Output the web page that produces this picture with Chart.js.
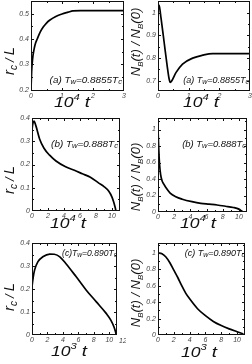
<!DOCTYPE html>
<html><head><meta charset="utf-8">
<script src="https://cdn.jsdelivr.net/npm/chart.js@4/dist/chart.umd.min.js"></script>
<style>
html,body{margin:0;padding:0;background:#fff;width:252px;height:364px;overflow:hidden;position:relative}
canvas{position:absolute}
</style></head><body>
<canvas id="c1"></canvas><canvas id="c2"></canvas><canvas id="c3"></canvas>
<canvas id="c4"></canvas><canvas id="c5"></canvas><canvas id="c6"></canvas>
<script>
// ---- data ----
const tA_rc = [0,0.02,0.05,0.1,0.15,0.2,0.3,0.4,0.5,0.6,0.8,1.0,1.2,1.35,1.6,2.0,2.5,3.0];
const rcA   = [0.20,0.27,0.32,0.36,0.385,0.40,0.428,0.448,0.463,0.474,0.489,0.499,0.506,0.511,0.512,0.512,0.512,0.512];
const tA_nb = [0,0.04,0.1,0.2,0.3,0.36,0.4,0.45,0.59,0.8,1.13,1.46,1.78,2.2,2.6,3.0];
const nbA   = [1.035,1.031,0.975,0.87,0.765,0.71,0.693,0.70,0.737,0.774,0.80,0.813,0.82,0.82,0.82,0.82];
const tB_rc = [0,0.1,0.25,0.5,0.95,1.5,2.2,3,4.2,5.3,6.3,7.3,8.35,9.0,9.6,10.0,10.2,10.4,10.5];
const rcB   = [0.35,0.375,0.387,0.365,0.31,0.27,0.24,0.215,0.19,0.175,0.16,0.145,0.12,0.105,0.085,0.06,0.04,0.015,0];
const tB_nb = [0,0.05,0.1,0.2,0.33,0.5,0.7,0.95,1.5,2.2,3,4.2,5.3,6.3,7.3,8.35,9.3,10,10.3,10.5];
const nbB   = [1.0,0.88,0.75,0.57,0.45,0.38,0.34,0.30,0.23,0.185,0.155,0.125,0.105,0.095,0.085,0.07,0.055,0.035,0.015,0];
const tC_rc = [0,0.15,0.34,0.77,1.4,2.3,2.9,3.6,4.4,5.7,7.0,8.3,9.6,10.2,10.6,10.8,10.9];
const rcC   = [0.21,0.25,0.283,0.319,0.34,0.352,0.351,0.34,0.31,0.254,0.196,0.145,0.094,0.065,0.036,0.015,0];
const tC_nb = [0,0.5,1,1.5,2,2.5,3,3.5,4,5,6,7,8,9,10,10.8];
const nbC   = [1.0,0.99,0.95,0.88,0.79,0.70,0.60,0.51,0.44,0.32,0.235,0.165,0.115,0.075,0.04,0.012];

const FAM = '"Liberation Sans", Arial, sans-serif';

// draws a run of italic segments; sx stretches horizontally
function rich(ctx, segs, x, y, align, sx){
  sx = sx || 1;
  let w = 0;
  segs.forEach(s=>{ctx.font='italic '+s.size+'px '+FAM; w += ctx.measureText(s.t).width + (s.gap||0);});
  w *= sx;
  let start = align==='right' ? x - w : align==='center' ? x - w/2 : x;
  ctx.save(); ctx.translate(start, y); ctx.scale(sx, 1);
  let cx = 0;
  segs.forEach(s=>{
    ctx.font='italic '+s.size+'px '+FAM;
    ctx.fillText(s.t, cx + (s.gap||0), (s.dy||0));
    cx += ctx.measureText(s.t).width + (s.gap||0);
  });
  ctx.restore();
}

function deco(cfg){
  return {
    id:'deco',
    afterDraw(chart){
      const ctx = chart.ctx, a = chart.chartArea, xs = chart.scales.x, ys = chart.scales.y;
      ctx.save();
      ctx.strokeStyle='#111'; ctx.lineWidth=1;
      ctx.strokeRect(a.left+0.5, a.top+0.5, a.right-a.left-1, a.bottom-a.top-1);
      ctx.beginPath();
      const tick = (min,max,step,len,fn)=>{ for(let v=min; v<=max+1e-9; v+=step){ fn(v,len);} };
      const xt=(v,len)=>{const p=Math.round(xs.getPixelForValue(v))+0.5; if(p<a.left+1||p>a.right-1)return;
        ctx.moveTo(p,a.bottom); ctx.lineTo(p,a.bottom-len); ctx.moveTo(p,a.top); ctx.lineTo(p,a.top+len);};
      const yt=(v,len)=>{const p=Math.round(ys.getPixelForValue(v))+0.5; if(p<a.top+1||p>a.bottom-1)return;
        ctx.moveTo(a.left,p); ctx.lineTo(a.left+len,p); ctx.moveTo(a.right,p); ctx.lineTo(a.right-len,p);};
      tick(cfg.xs.min0, cfg.xs.max, cfg.xs.minor, 2, xt);
      tick(cfg.xs.min0, cfg.xs.max, cfg.xs.step, 3, xt);
      tick(cfg.ys.min0, cfg.ys.max, cfg.ys.minor, 2, yt);
      tick(cfg.ys.min0, cfg.ys.max, cfg.ys.step, 3, yt);
      ctx.stroke();
      ctx.fillStyle='#111'; ctx.textBaseline='alphabetic';
      // x title
      rich(ctx, [{t:'10',size:14},{t:cfg.xexp,size:9,dy:-7},{t:'t',size:15,gap:4}], cfg.xt[0], cfg.xt[1], 'center', 1.25);
      if (cfg.extra){ ctx.fillStyle='#444'; ctx.font='italic 7px '+FAM; ctx.fillText(cfg.extra, a.right+2, a.bottom+8); ctx.fillStyle='#111'; }
      // y title
      ctx.save(); ctx.translate(cfg.ytX, cfg.ytY); ctx.rotate(-Math.PI/2);
      rich(ctx, cfg.ytitle, 0, 0, 'center'); ctx.restore();
      // annotation
      rich(ctx, cfg.note, a.right-cfg.noteR, a.top+cfg.noteY, 'right', cfg.noteS);
      ctx.restore();
    }
  };
}

const rcTitle = [{t:'r',size:15},{t:'c',size:10,dy:3},{t:'/',size:13,gap:3},{t:'L',size:15,gap:3}];
const nbTitle = [{t:'N',size:13},{t:'B',size:8,dy:3},{t:'(t) / N',size:13},{t:'B',size:8,dy:3},{t:'(0)',size:13}];
function note(l, val, sp){ return [{t:l+(sp?' ':'')+'T',size:9},{t:'w',size:7,dy:1},{t:'='+val+'T',size:9},{t:'c',size:7,dy:1}]; }

const fmt = v => String(+v.toFixed(3));

function make(id, pos, cw, ch, area, xs, ys, t, v, d){
  const el = document.getElementById(id);
  el.width=cw; el.height=ch; el.style.left=pos[0]+'px'; el.style.top=pos[1]+'px';
  el.style.width=cw+'px'; el.style.height=ch+'px';
  const tickFont = {size:7, style:'italic', family:FAM};
  new Chart(el, {
    type:'line',
    data:{datasets:[{data:t.map((x,i)=>({x:x,y:v[i]})), borderColor:'#000', borderWidth:1.7, pointRadius:0,
      tension:0.4, cubicInterpolationMode:'monotone', fill:false}]},
    options:{
      responsive:false, animation:false, devicePixelRatio:1,
      plugins:{legend:{display:false}, tooltip:{enabled:false}},
      layout:{padding:{left:0, top:area.top, right:cw-area.right, bottom:0}},
      scales:{
        x:{type:'linear', min:xs.min, max:xs.max,
          ticks:{stepSize:xs.step, font:tickFont, color:'#444', padding:1, maxRotation:0, autoSkip:false, includeBounds:false, callback:fmt},
          grid:{display:false, drawTicks:false}, border:{display:false},
          afterFit:s=>{s.height=ch-area.bottom; s.paddingLeft=0; s.paddingRight=0;}},
        y:{type:'linear', min:ys.min, max:ys.max,
          ticks:{stepSize:ys.step, font:tickFont, color:'#444', padding:2, autoSkip:false, includeBounds:false, callback:fmt},
          grid:{display:false, drawTicks:false}, border:{display:false},
          afterFit:s=>{s.width=area.left; s.paddingTop=0; s.paddingBottom=0;}}
      }
    },
    plugins:[deco(Object.assign({xs:xs, ys:ys}, d))]
  });
}

make('c1',[0,0],126,113,{left:31,right:124,top:1,bottom:91},
  {min:0,max:3,step:1,minor:0.5,min0:0},{min:0.195,max:0.55,step:0.1,minor:0.05,min0:0.2},
  tA_rc, rcA, {xexp:'4', xt:[72,107], ytitle:rcTitle, ytX:14, ytY:61, note:note('(a)','0.8855',true), noteR:2, noteY:82, noteS:1.1});
make('c2',[126,0],126,113,{left:32,right:124,top:1,bottom:91},
  {min:0,max:3,step:1,minor:0.5,min0:0},{min:0.655,max:1.052,step:0.1,minor:0.05,min0:0.7},
  tA_nb, nbA, {xexp:'4', xt:[75,107], ytitle:nbTitle, ytX:14, ytY:42, note:note('(a)','0.8855',true), noteR:1, noteY:82, noteS:1.0});
make('c3',[0,113],126,125,{left:32,right:120,top:5,bottom:98},
  {min:0,max:11,step:2,minor:1,min0:0},{min:0,max:0.4,step:0.1,minor:0.05,min0:0},
  tB_rc, rcB, {xexp:'4', xt:[68,115], ytitle:rcTitle, ytX:14, ytY:67, note:note('(b)','0.888',true), noteR:2, noteY:29, noteS:1.1});
make('c4',[126,113],126,125,{left:32,right:121,top:5,bottom:99},
  {min:0,max:11,step:2,minor:1,min0:0},{min:0,max:1.14,step:0.2,minor:0.1,min0:0},
  tB_nb, nbB, {xexp:'4', xt:[72,115], ytitle:nbTitle, ytX:14, ytY:64, note:note('(b)','0.888',true), noteR:1, noteY:29, noteS:1.05});
make('c5',[0,238],126,126,{left:32,right:117,top:5,bottom:97},
  {min:0,max:11,step:2,minor:1,min0:0},{min:0,max:0.4,step:0.1,minor:0.05,min0:0},
  tC_rc, rcC, {xexp:'3', xt:[69,118], extra:'12', ytitle:rcTitle, ytX:14, ytY:59, note:note('(c)','0.890',false), noteR:0, noteY:13, noteS:0.95});
make('c6',[126,238],126,126,{left:32,right:119,top:5,bottom:97},
  {min:0,max:11,step:2,minor:1,min0:0},{min:0,max:1.12,step:0.2,minor:0.1,min0:0},
  tC_nb, nbC, {xexp:'3', xt:[73,119], ytitle:nbTitle, ytX:14, ytY:55, note:note('(c)','0.890',true), noteR:0, noteY:13, noteS:1.0});
</script>
</body></html>
